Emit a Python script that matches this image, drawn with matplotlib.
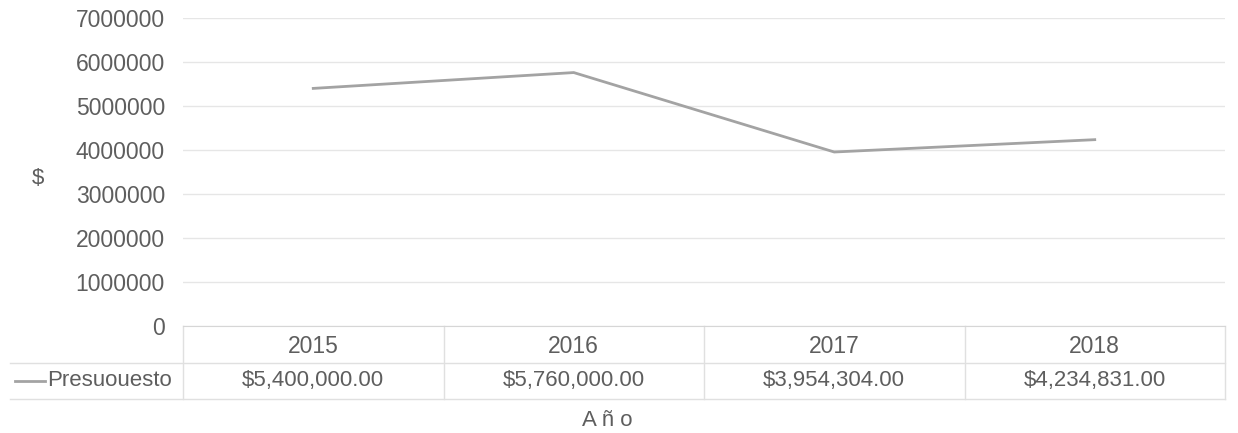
import matplotlib
matplotlib.use("Agg")
import matplotlib.pyplot as plt
from matplotlib.lines import Line2D

plt.rcParams['font.family'] = ['Liberation Sans', 'DejaVu Sans']

YEARS = ["2015", "2016", "2017", "2018"]
BUDGET = [5400000.00, 5760000.00, 3954304.00, 4234831.00]
SERIES_NAME = "Presuouesto"
Y_TICKS = [0, 1000000, 2000000, 3000000, 4000000, 5000000, 6000000, 7000000]

TEXT = "#5e5e5e"
GRID = "#e6e6e6"
LINE = "#a3a3a3"

fig = plt.figure(figsize=(12.38, 4.33), dpi=100)
ax = fig.add_axes([183 / 1238, 1 - 326 / 433, 1042 / 1238, 308 / 433])

xs = list(range(len(YEARS)))
ax.plot(xs, BUDGET, color=LINE, lw=2.0, solid_joinstyle="miter")

ax.set_xlim(-0.5, len(YEARS) - 0.5)
ax.set_ylim(0, 7000000)
ax.set_yticks(Y_TICKS)
ax.set_yticklabels([str(v) for v in Y_TICKS], fontsize=16.5, color=TEXT)
ax.tick_params(axis="y", length=0, pad=13)
ax.set_xticks([])
ax.grid(axis="y", color=GRID, lw=1)
for s in ["top", "right", "left"]:
    ax.spines[s].set_visible(False)
ax.spines["bottom"].set_color("#d6d6d6")

fig.text(38 / 1238, 1 - 178 / 433, "$", fontsize=16, color=TEXT,
         ha="center", va="center")

# data table below the axis
tr = ax.get_xaxis_transform()
row_head = -0.068
row_val = -0.178
line_mid = -0.12
line_bot = -0.237
for x, yr, v in zip(xs, YEARS, BUDGET):
    ax.text(x, row_head, yr, transform=tr, ha="center", va="center",
            fontsize=16.5, color=TEXT)
    ax.text(x, row_val, "${:,.2f}".format(v), transform=tr, ha="center",
            va="center", fontsize=16, color=TEXT)

for b in [i - 0.5 for i in range(len(YEARS) + 1)]:
    ax.add_line(Line2D([b, b], [0, line_bot], transform=tr, color="#e0e0e0",
                       lw=1, clip_on=False))

# horizontal rows spanning the legend cell
fx0 = 10 / 1238
fx1 = 1225 / 1238
for yy in [line_mid, line_bot]:
    fy = ax.transAxes.transform((0, yy))
    fy = fig.transFigure.inverted().transform(fy)[1]
    fig.add_artist(Line2D([fx0, fx1], [fy, fy], color="#e0e0e0", lw=1))

fy_val = fig.transFigure.inverted().transform(ax.transAxes.transform((0, row_val)))[1]
fig.add_artist(Line2D([15 / 1238, 45 / 1238], [fy_val, fy_val], color=LINE, lw=2.0))
fig.text(47 / 1238, fy_val, SERIES_NAME, ha="left", va="center", fontsize=16, color=TEXT)

fig.text(607 / 1238, 1 - 420 / 433, "A ñ o", ha="center", va="center",
         fontsize=16, color=TEXT)

fig.savefig("out.png", dpi=100, facecolor="white")
